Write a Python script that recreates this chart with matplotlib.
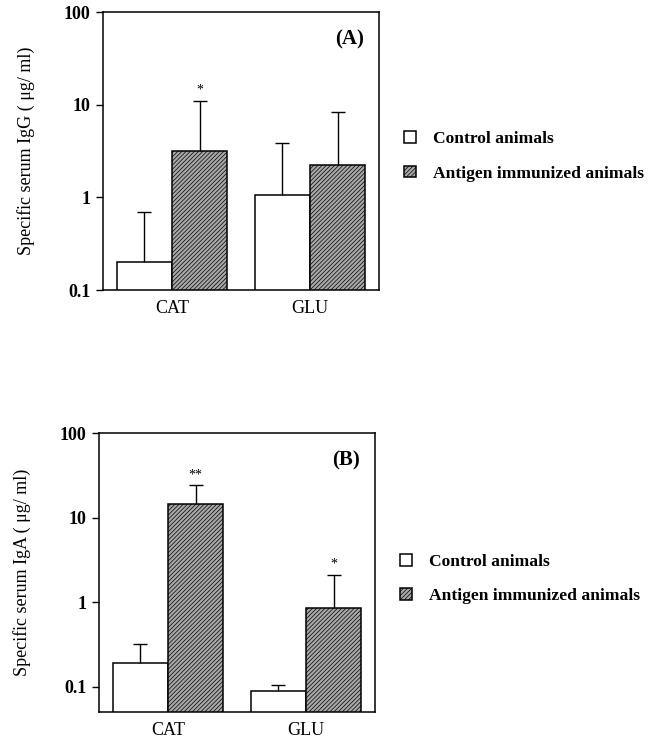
import matplotlib
matplotlib.use("Agg")
import matplotlib.pyplot as plt
import numpy as np

plt.rcParams['font.family'] = ['Liberation Serif', 'DejaVu Serif']
plt.rcParams['hatch.linewidth'] = 0.5

categories = ['CAT', 'GLU']
series_names = ['Control animals', 'Antigen immunized animals']

# panel A: specific serum IgG (ug/ml)
igg_control = [0.2, 1.05]
igg_control_err_top = [0.7, 3.9]
igg_immun = [3.2, 2.25]
igg_immun_err_top = [11.0, 8.3]
igg_stars = ['*', '']

# panel B: specific serum IgA (ug/ml)
iga_control = [0.19, 0.088]
iga_control_err_top = [0.32, 0.104]
iga_immun = [14.5, 0.85]
iga_immun_err_top = [24.0, 2.1]
iga_stars = ['**', '*']

yticks = [0.1, 1, 10, 100]
ytick_labels = ['0.1', '1', '10', '100']


def upper_err(ax, xs, vals, tops):
    vals = np.array(vals)
    err = ax.errorbar(xs, vals, yerr=[np.zeros(len(vals)), np.array(tops) - vals],
                      fmt='none', ecolor='black', elinewidth=1, capsize=5, capthick=1)
    # keep only the upper cap
    err[1][0].set_visible(False)


def panel(ax, ctrl, ctrl_top, imm, imm_top, stars, ylabel, tag, ymin, leg_y):
    x = np.arange(len(categories))
    w = 0.4
    b1 = ax.bar(x - w / 2, ctrl, w, color='white', edgecolor='black', linewidth=1.1)
    b2 = ax.bar(x + w / 2, imm, w, color='#a8a8a8', edgecolor='black',
                linewidth=1.1, hatch='////////')
    upper_err(ax, x - w / 2, ctrl, ctrl_top)
    upper_err(ax, x + w / 2, imm, imm_top)
    for xi, top, s in zip(x + w / 2, imm_top, stars):
        if s:
            ax.text(xi, top * 1.12, s, ha='center', va='bottom', fontsize=10)
    ax.set_yscale('log')
    ax.set_ylim(ymin, 100)
    ax.set_xlim(-0.5, 1.5)
    ax.set_yticks(yticks)
    ax.set_yticklabels(ytick_labels, fontweight='bold', fontsize=13)
    ax.minorticks_off()
    ax.set_xticks(x)
    ax.set_xticklabels(categories, fontsize=13)
    ax.tick_params(axis='x', length=0, pad=7)
    ax.tick_params(axis='y', length=5, width=1, direction='out', pad=4)
    for sp in ax.spines.values():
        sp.set_linewidth(1.1)
    ax.set_ylabel(ylabel, fontsize=13, labelpad=21)
    ax.text(0.895, 0.90, tag, transform=ax.transAxes, ha='center', va='center',
            fontsize=15, fontweight='bold')
    ax.legend([b1, b2], series_names, loc='center left', bbox_to_anchor=(1.035, leg_y),
              frameon=False, handlelength=0.65, handleheight=0.65, handletextpad=1.0,
              labelspacing=1.05, prop={'size': 12.6, 'weight': 'bold'})


fig = plt.figure(figsize=(6.67, 7.41), dpi=100)
ax1 = fig.add_axes([0.1544, 0.6086, 0.4138, 0.3752])
ax2 = fig.add_axes([0.1484, 0.0391, 0.4138, 0.3765])

panel(ax1, igg_control, igg_control_err_top, igg_immun, igg_immun_err_top, igg_stars,
      'Specific serum IgG ( μg/ ml)', '(A)', 0.1, 0.48)
panel(ax2, iga_control, iga_control_err_top, iga_immun, iga_immun_err_top, iga_stars,
      'Specific serum IgA ( μg/ ml)', '(B)', 0.05, 0.476)

fig.savefig('out.png', dpi=100)
